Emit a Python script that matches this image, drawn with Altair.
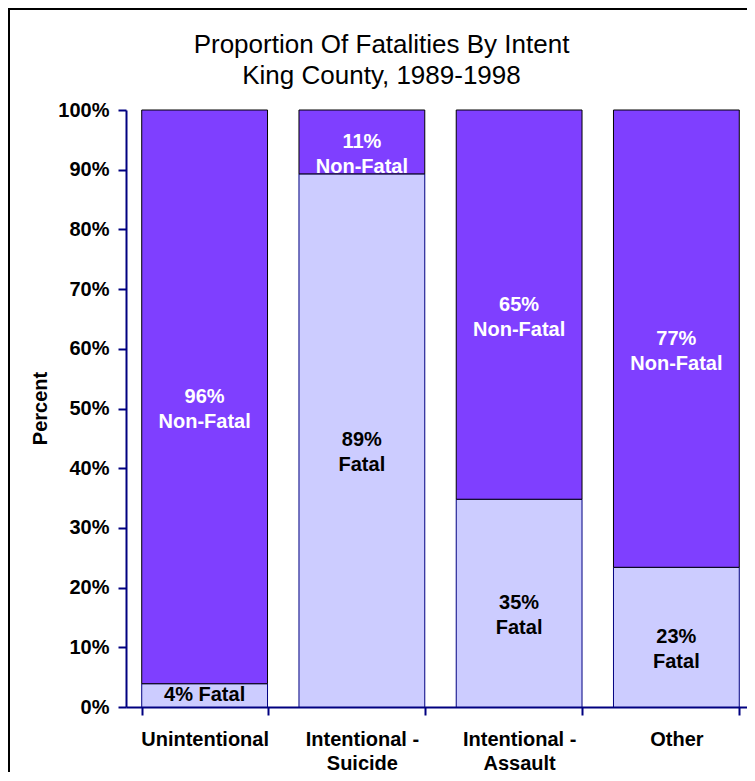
import altair as alt
import pandas as pd

categories = ["Unintentional", "Intentional - Suicide", "Intentional - Assault", "Other"]
fatal_pct = [3.9, 89.3, 34.8, 23.4]
nonfatal_pct = [96.1, 10.7, 65.2, 76.6]
fatal_labels = ["4% Fatal", "89%\nFatal", "35%\nFatal", "23%\nFatal"]
nonfatal_labels = ["96%\nNon-Fatal", "11%\nNon-Fatal", "65%\nNon-Fatal", "77%\nNon-Fatal"]
series_names = ["Fatal", "Non-Fatal"]
y_ticks = [0, 10, 20, 30, 40, 50, 60, 70, 80, 90, 100]

rows = []
for c, f, nf, fl, nl in zip(categories, fatal_pct, nonfatal_pct, fatal_labels, nonfatal_labels):
    rows.append({"cat": c, "series": "Fatal", "start": 0, "end": f,
                 "mid": f / 2, "label": fl, "tcolor": "black"})
    rows.append({"cat": c, "series": "Non-Fatal", "start": f, "end": f + nf,
                 "mid": f + nf / 2, "label": nl, "tcolor": "white"})
df = pd.DataFrame(rows)

FONT = "Liberation Sans"
NAVY = "#000080"
FS = 20

x_enc = alt.X(
    "cat:N", sort=categories,
    scale=alt.Scale(paddingInner=0.2, paddingOuter=0.1),
    axis=alt.Axis(
        title=None, labelAngle=0,
        labelExpr="split(replace(datum.label, ' - ', ' -|'), '|')",
        labelFont=FONT, labelFontSize=FS, labelFontWeight="bold", labelColor="black",
        labelPadding=14, labelLineHeight=24,
        domainColor=NAVY, domainWidth=2, tickColor=NAVY, tickWidth=2, tickSize=8,
        tickBand="extent",
    ),
)
y_scale = alt.Scale(domain=[0, 100], nice=False)

bars = alt.Chart(df).mark_bar(strokeWidth=1).encode(
    x=x_enc,
    y=alt.Y("start:Q", scale=y_scale, axis=alt.Axis(
        values=y_ticks, labelExpr="datum.value + '%'", grid=False,
        title="Percent", titleFont=FONT, titleFontSize=FS, titleFontWeight="bold",
        titleColor="black", titleX=-80, titleY=298, titleBaseline="alphabetic",
        labelFont=FONT, labelFontSize=FS, labelFontWeight="bold", labelColor="black",
        labelPadding=9, domainColor=NAVY, domainWidth=2, tickColor=NAVY,
        tickWidth=2, tickSize=8,
    )),
    y2="end:Q",
    color=alt.Color("series:N", scale=alt.Scale(domain=series_names,
                    range=["#CCCCFF", "#7F3FFF"]), legend=None),
    stroke=alt.Stroke("series:N", scale=alt.Scale(domain=series_names,
                      range=[NAVY, "#000000"]), legend=None),
)

labels = alt.Chart(df).mark_text(
    lineBreak="\n", font=FONT, fontSize=FS, fontWeight="bold",
    lineHeight=25, baseline="middle", align="center",
).encode(
    x=alt.X("cat:N", sort=categories),
    y=alt.Y("mid:Q", scale=y_scale),
    text="label:N",
    color=alt.Color("tcolor:N", scale=None),
)

frame = alt.Chart(pd.DataFrame({"a": [0]})).mark_rect(
    fillOpacity=0, stroke="black", strokeWidth=2,
).encode(
    x=alt.value(-117), x2=alt.value(900), y=alt.value(-101), y2=alt.value(900),
)

chart = alt.layer(frame, bars, labels).properties(
    width=629, height=597,
    autosize=alt.AutoSizeParams(type="none"),
    padding={"left": 118, "top": 102, "right": -8, "bottom": 65},
    title=alt.TitleParams(
        text=["Proportion Of Fatalities By Intent", "King County, 1989-1998"],
        font=FONT, fontSize=26, fontWeight="normal", color="black",
        anchor="middle", frame="group", dx=-59, offset=-81, lineHeight=31,
    ),
).configure_view(strokeWidth=0)

chart.save("out.html", embed_options={"renderer": "svg", "actions": False})
